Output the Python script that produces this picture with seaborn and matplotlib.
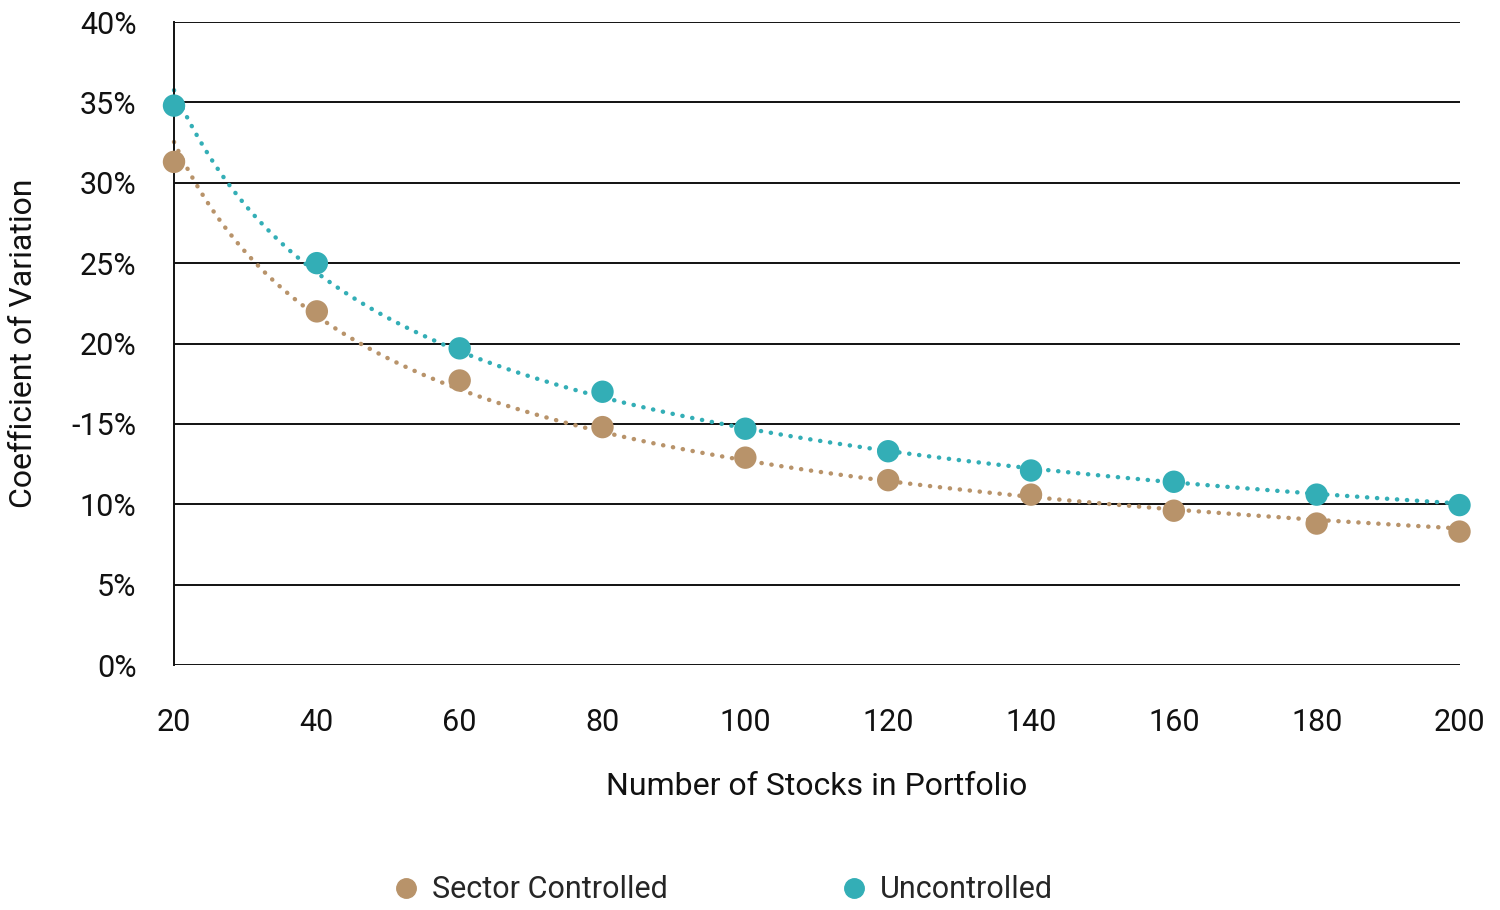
import matplotlib
matplotlib.use("Agg")
import matplotlib.pyplot as plt
import numpy as np
import pandas as pd
import seaborn as sns

# data
stocks = [20, 40, 60, 80, 100, 120, 140, 160, 180, 200]
sector_controlled = [31.3, 22.0, 17.7, 14.8, 12.9, 11.5, 10.6, 9.6, 8.8, 8.3]
uncontrolled = [34.8, 25.0, 19.7, 17.0, 14.7, 13.3, 12.1, 11.4, 10.6, 9.95]
y_ticks = [0, 5, 10, 15, 20, 25, 30, 35, 40]
y_labels = ["0%", "5%", "10%", "-15%", "20%", "25%", "30%", "35%", "40%"]
x_ticks = stocks

colors = {"Sector Controlled": "#B8936A", "Uncontrolled": "#33AEB6"}

sns.set_theme(style="white")
plt.rcParams["font.family"] = ["Roboto", "DejaVu Sans"]

df = pd.DataFrame({
    "stocks": stocks * 2,
    "cv": sector_controlled + uncontrolled,
    "series": ["Sector Controlled"] * len(stocks) + ["Uncontrolled"] * len(stocks),
})

# power-law trendlines fitted to each series
xs = np.linspace(20, 200, 300)
fits = []
for name, vals in [("Sector Controlled", sector_controlled), ("Uncontrolled", uncontrolled)]:
    b, a = np.polyfit(np.log(stocks), np.log(vals), 1)
    fits.append(pd.DataFrame({"stocks": xs, "cv": np.exp(a) * xs ** b, "series": name}))
fit_df = pd.concat(fits)

fig = plt.figure(figsize=(15, 9.1), dpi=100)
ax = fig.add_axes([0.116, 0.2692, 0.857, 0.7066])

for name, g in fit_df.groupby("series"):
    ax.plot(g["stocks"], g["cv"], color=colors[name], lw=3.2,
            linestyle=(0, (0.05, 2.2)), dash_capstyle="round", zorder=2, clip_on=False)

sns.scatterplot(data=df, x="stocks", y="cv", hue="series", palette=colors,
                s=260, edgecolor="none", ax=ax, zorder=3, clip_on=False, legend=False)

ax.set_xlim(20, 200)
ax.set_ylim(0, 40)
ax.set_yticks(y_ticks)
ax.set_yticklabels(y_labels)
ax.set_xticks(x_ticks)
ax.grid(axis="y", color="#111111", lw=1.4)
ax.set_axisbelow(True)
for s in ["top", "right", "bottom"]:
    ax.spines[s].set_visible(False)
ax.spines["left"].set_color("#111111")
ax.spines["left"].set_linewidth(1.4)
ax.tick_params(axis="y", pad=27, labelsize=22, length=0, labelcolor="#111111")
ax.tick_params(axis="x", pad=31, labelsize=22, length=0, labelcolor="#111111")
ax.set_xlabel("Number of Stocks in Portfolio", fontsize=23, labelpad=25, color="#111111")
ax.set_ylabel("Coefficient of Variation", fontsize=23, labelpad=24, color="#111111")

handles = [plt.Line2D([], [], marker="o", ls="", color=colors[k], markersize=14)
           for k in colors]
fig.legend(handles, list(colors), loc="center", bbox_to_anchor=(0.481, 0.022),
           ncol=2, frameon=False, fontsize=22, columnspacing=5.6,
           handlelength=1.0, handletextpad=0.35)

fig.savefig("out.png", dpi=100)
